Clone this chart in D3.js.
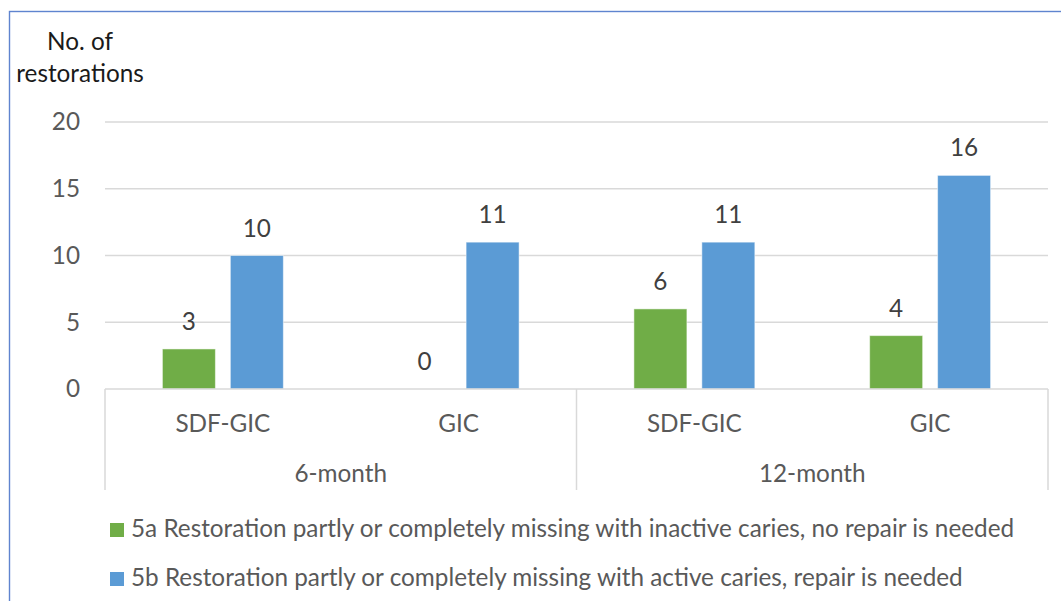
<!DOCTYPE html>
<html>
<head>
<meta charset="utf-8">
<script src="https://cdn.jsdelivr.net/npm/d3@7"></script>
<style>
  html, body { margin: 0; padding: 0; background: #fff; }
  svg { display: block; }
  text { font-family: Lato, "Noto Sans", sans-serif; }
</style>
</head>
<body>
<svg id="chart" width="1061" height="601"></svg>
<script>
// Restoration failure counts (code 5a / 5b) by material and follow-up period
const periods = ["6-month", "12-month"];
const materials = ["SDF-GIC", "GIC"];
const seriesNames = [
  "5a Restoration partly or completely missing with inactive caries, no repair is needed",
  "5b Restoration partly or completely missing with active caries, repair is needed"
];
const seriesColors = ["#70AD47", "#5B9BD5"];
// values per category, in order: 6-month SDF-GIC, 6-month GIC, 12-month SDF-GIC, 12-month GIC
const inactiveCaries = [3, 0, 6, 4];
const activeCaries = [10, 11, 11, 16];
const yTicks = [0, 5, 10, 15, 20];

const categories = [];
periods.forEach(p => materials.forEach(m => categories.push({ period: p, material: m, key: p + "|" + m })));
const series = [inactiveCaries, activeCaries];

const FONT = "24.3px";
const svg = d3.select("#chart");
const plot = { left: 105, right: 1048, top: 122, bottom: 389 };

// chart area outline
svg.append("rect")
  .attr("x", 9.5).attr("y", 11.5)
  .attr("width", 1200).attr("height", 800)
  .attr("fill", "none").attr("stroke", "#5f84cf").attr("stroke-width", 1.4);

const y = d3.scaleLinear().domain([0, 20]).range([plot.bottom, plot.top]);
const gap = 0.487;
const x0 = d3.scaleBand()
  .domain(categories.map(c => c.key))
  .range([plot.left, plot.right])
  .paddingInner(gap).paddingOuter(gap / 2);
const x1 = d3.scaleBand()
  .domain(d3.range(series.length))
  .range([0, x0.bandwidth()])
  .paddingInner(0.22);
// left edge of the full slot a category occupies
const slotStart = key => x0(key) - x0.step() * gap / 2;

// gridlines
svg.append("g")
  .selectAll("line")
  .data(yTicks.filter(t => t > 0))
  .join("line")
  .attr("x1", plot.left).attr("x2", plot.right)
  .attr("y1", d => y(d)).attr("y2", d => y(d))
  .attr("stroke", "#d9d9d9").attr("stroke-width", 1.5);

// y axis labels
const yAxis = d3.axisLeft(y).tickValues(yTicks).tickSize(0).tickPadding(25);
const gy = svg.append("g").attr("transform", `translate(${plot.left},0)`).call(yAxis);
gy.select(".domain").remove();
gy.selectAll("text")
  .attr("fill", "#595959")
  .style("font-size", FONT)
  .style("font-family", "Lato, 'Noto Sans', sans-serif");

// y axis title
const title = svg.append("text")
  .attr("text-anchor", "middle")
  .attr("fill", "#1a1a1a")
  .style("font-size", FONT);
title.append("tspan").attr("x", 80).attr("y", 50).text("No. of");
title.append("tspan").attr("x", 80).attr("y", 82).text("restorations");

// bars and value labels
const bars = svg.append("g");
series.forEach((vals, si) => {
  const rows = vals.map((v, i) => ({ v, c: categories[i] }));
  bars.selectAll(null)
    .data(rows)
    .join("rect")
    .attr("x", d => x0(d.c.key) + x1(si))
    .attr("width", x1.bandwidth())
    .attr("y", d => y(d.v))
    .attr("height", d => y(0) - y(d.v))
    .attr("fill", seriesColors[si])
    .attr("stroke", "#ffffff").attr("stroke-opacity", 0.5).attr("stroke-width", 1);

  bars.selectAll(null)
    .data(rows)
    .join("text")
    .attr("x", d => x0(d.c.key) + x1(si) + x1.bandwidth() / 2)
    .attr("y", d => y(d.v) - 19)
    .attr("text-anchor", "middle")
    .attr("fill", "#404040")
    .style("font-size", FONT)
    .text(d => d.v);
});

// category axis: baseline, group separators, labels
const axisG = svg.append("g");
axisG.append("line")
  .attr("x1", plot.left).attr("x2", plot.right)
  .attr("y1", y(0)).attr("y2", y(0))
  .attr("stroke", "#d9d9d9").attr("stroke-width", 1.5);

const groupEdges = [plot.left];
periods.forEach(p => {
  const keys = categories.filter(c => c.period === p).map(c => c.key);
  groupEdges.push(slotStart(keys[keys.length - 1]) + x0.step());
});
axisG.selectAll("line.sep")
  .data(groupEdges)
  .join("line")
  .attr("class", "sep")
  .attr("x1", d => d).attr("x2", d => d)
  .attr("y1", y(0)).attr("y2", 490)
  .attr("stroke", "#d9d9d9").attr("stroke-width", 1.5);

axisG.selectAll("text.cat")
  .data(categories)
  .join("text")
  .attr("class", "cat")
  .attr("x", d => x0(d.key) + x0.bandwidth() / 2)
  .attr("y", 432)
  .attr("text-anchor", "middle")
  .attr("fill", "#595959")
  .style("font-size", FONT)
  .text(d => d.material);

axisG.selectAll("text.period")
  .data(periods)
  .join("text")
  .attr("class", "period")
  .attr("x", p => {
    const keys = categories.filter(c => c.period === p).map(c => c.key);
    return (slotStart(keys[0]) + slotStart(keys[keys.length - 1]) + x0.step()) / 2;
  })
  .attr("y", 482)
  .attr("text-anchor", "middle")
  .attr("fill", "#595959")
  .style("font-size", FONT)
  .text(p => p);

// legend
const legend = svg.append("g");
seriesNames.forEach((name, i) => {
  const ly = 537 + i * 49;
  legend.append("rect")
    .attr("x", 110).attr("y", ly - 14)
    .attr("width", 14).attr("height", 14)
    .attr("fill", seriesColors[i]);
  legend.append("text")
    .attr("x", 131).attr("y", ly)
    .attr("fill", "#595959")
    .style("font-size", FONT)
    .text(name);
});
</script>
</body>
</html>
